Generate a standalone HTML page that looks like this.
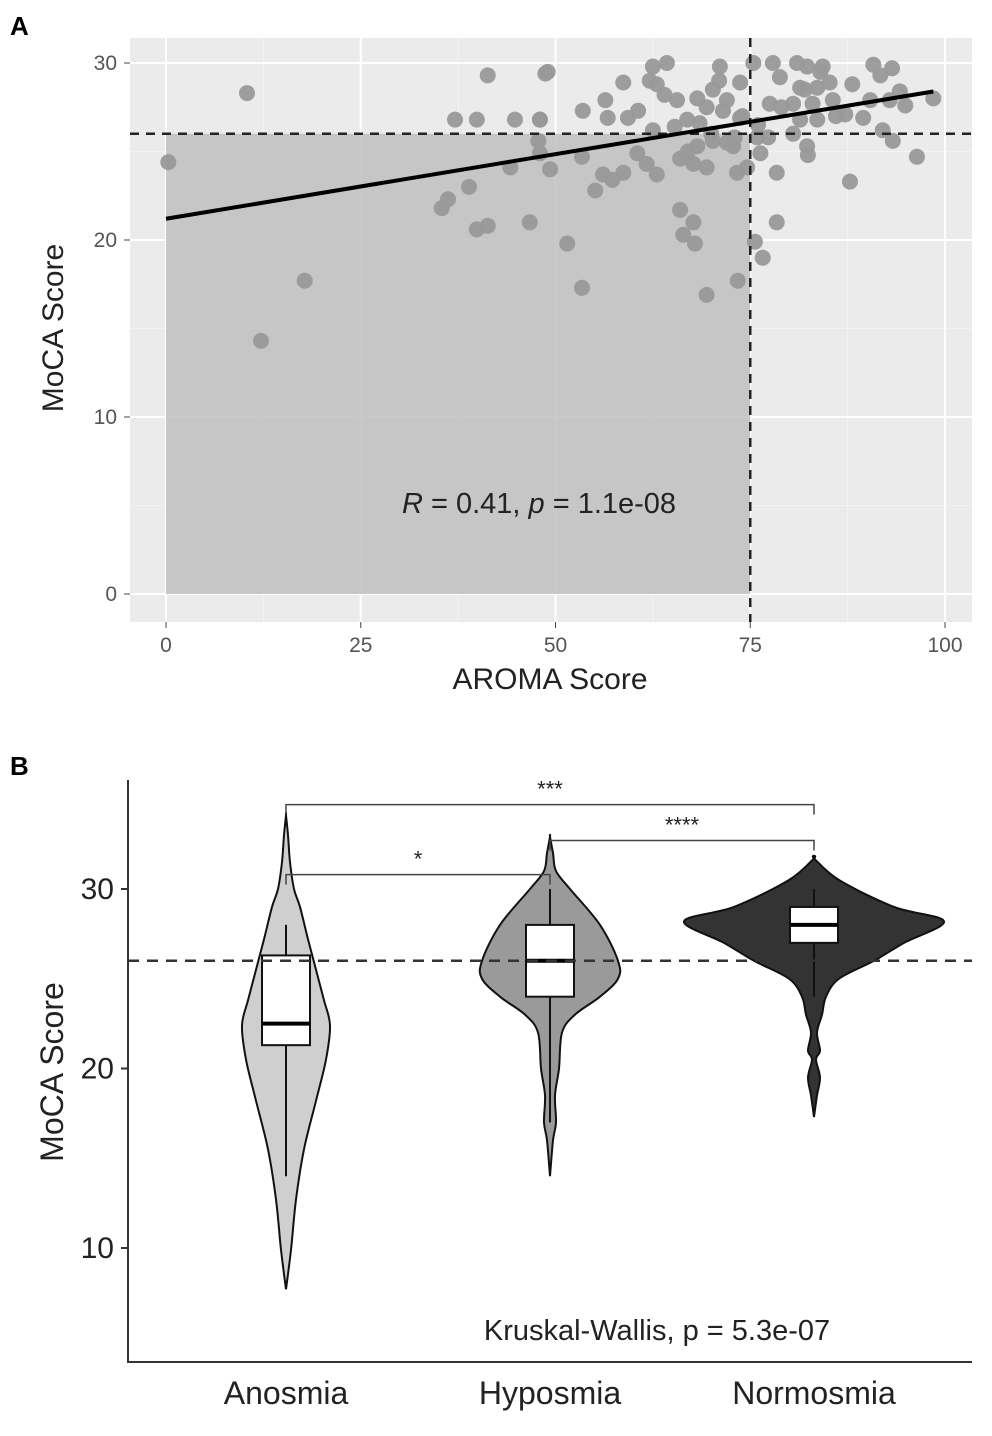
<!DOCTYPE html>
<html><head><meta charset="utf-8"><style>
body{margin:0;background:#fff;width:992px;height:1431px;overflow:hidden;font-family:"Liberation Sans",sans-serif}
</style></head><body>
<svg id="svg" width="992" height="1431" viewBox="0 0 992 1431" xmlns="http://www.w3.org/2000/svg" font-family="Liberation Sans, sans-serif">
<text x="10" y="35" font-size="26" font-weight="bold">A</text>
<text x="10" y="775" font-size="26" font-weight="bold">B</text>
<g id="ga"></g>
<g id="gb"></g>
</svg>
<script>
// Panel A data
const aromaX=[0.3,10.4,12.2,17.8,41.3,37.1,39.9,44.8,48,48.7,47.8,44.2,38.9,36.2,35.4,41.3,39.9,46.7,49,48,53.5,58.7,56.4,56.7,59.3,60.6,62.5,64.3,62.1,63,65.6,71.1,73.7,68.2,70.2,72,69.4,71.5,66.9,68.5,73.7,62.5,65.3,70.2,72.8,68.2,66,67.7,69.4,73.3,74.6,60.5,61.7,63,58.7,56.1,57.3,55.1,53.4,49.3,48,66,67.7,66.4,67.9,51.5,53.4,69.4,73.4,75.6,76.6,78.4,78.4,76.3,75.4,77.9,78.8,77.5,81,82.3,84.3,81.4,83.6,85.2,80.5,83,85.6,81.4,83.6,80.5,82.3,82.4,88.1,87.2,89.5,90.4,90.8,91.7,93.2,92.9,94.2,94.9,92,93.3,96.4,98.5,87.8,75.9,77.3,70,72,74,64,67,79,82,84,86,71,73,76];
const mocaY=[24.4,28.3,14.3,17.7,29.3,26.8,26.8,26.8,26.8,29.4,25.6,24.1,23,22.3,21.8,20.8,20.6,21,29.5,26.8,27.3,28.9,27.9,26.9,26.9,27.3,29.8,30,29,28.8,27.9,29.8,28.9,28,28.5,27.9,27.5,27.3,26.8,26.6,26.9,26.2,26.4,25.6,25.3,25.3,24.6,24.3,24.1,23.8,24.1,24.9,24.3,23.7,23.8,23.7,23.4,22.8,24.7,24,24.9,21.7,21,20.3,19.8,19.8,17.3,16.9,17.7,19.9,19,21,23.8,24.9,30,30,29.2,27.7,30,29.8,29.8,28.6,28.6,28.9,27.7,27.7,27.9,26.8,26.8,26,25.3,24.8,28.8,27.1,26.9,27.9,29.9,29.3,29.7,27.9,28.4,27.6,26.2,25.6,24.7,28,23.3,25.8,25.8,26,25.5,27,28.2,25,27.5,28.5,29.5,27,29,25.8,26.5,28.8];
const xTicksA=[0,25,50,75,100];
const yTicksA=[0,10,20,30];
const fitIntercept=21.2, fitSlope=0.073;
const cutX=75, cutY=26;
// Panel B data
const groups=["Anosmia","Hyposmia","Normosmia"];
const groupFill=["#cfcfcf","#9a9a9a","#333333"];
const violinV=[
 [7.7,9.9,12.7,15.5,18.2,20.5,22.4,23.8,25.5,27.2,29,30,31.5,33,34.1],
 [14,16,17,18.5,20,22,23,24,25,26,28,30,31,32,32.9],
 [17.3,18.5,19.5,20.5,21,22,23,24,25,26,27,28.2,29,30.5,31.7]];
const violinW=[
 [0,5,10,18,30,40,44,38,30,22,14,8,4,2,0],
 [0,3,6,5,9,12,25,50,68,68,50,20,6,3,0],
 [0,3,6,2,6,3,8,12,25,60,90,130,80,25,0]];
const boxQ1=[21.3,24,27], boxMed=[22.5,26,28], boxQ3=[26.3,28,29], whiskLo=[14,17,24], whiskHi=[28,30,30];
const yTicksB=[10,20,30];
const kwText="Kruskal-Wallis, p = 5.3e-07";
const brackets=[{a:0,b:2,y:34.7,lab:"***"},{a:1,b:2,y:32.7,lab:"****"},{a:0,b:1,y:30.8,lab:"*"}];

const NS="http://www.w3.org/2000/svg";
function mk(p,t,at,txt){const e=document.createElementNS(NS,t);for(const k in at)e.setAttribute(k,at[k]);if(txt!==undefined)e.textContent=txt;p.appendChild(e);return e;}
// ---- Panel A
const ga=document.getElementById('ga');
const sx=v=>166+v*7.79, sy=v=>594-v*17.7;
let e=mk(ga,'rect',{x:130,y:38,width:842,height:584,fill:'#ebebeb'});

[12.5,37.5,62.5,87.5].forEach(v=>mk(ga,'line',{x1:sx(v),x2:sx(v),y1:38,y2:622,stroke:'#f3f3f3','stroke-width':1}));
[5,15,25].forEach(v=>mk(ga,'line',{x1:130,x2:972,y1:sy(v),y2:sy(v),stroke:'#f3f3f3','stroke-width':1}));
xTicksA.forEach(v=>{mk(ga,'line',{x1:sx(v),x2:sx(v),y1:38,y2:622,stroke:'#fff','stroke-width':2});
 mk(ga,'line',{x1:sx(v),x2:sx(v),y1:622,y2:628,stroke:'#444'});
 e=mk(ga,'text',{x:sx(v),y:652,'font-size':21,fill:'#555','text-anchor':'middle'},v);
 });
yTicksA.forEach(v=>{mk(ga,'line',{x1:130,x2:972,y1:sy(v),y2:sy(v),stroke:'#fff','stroke-width':2});
 mk(ga,'line',{x1:124,x2:130,y1:sy(v),y2:sy(v),stroke:'#444'});
 e=mk(ga,'text',{x:117,y:sy(v)+7,'font-size':21,fill:'#555','text-anchor':'end'},v);
 });
e=mk(ga,'rect',{x:sx(0),y:sy(cutY),width:sx(cutX)-sx(0),height:sy(0)-sy(cutY),fill:'#bfbfbf','fill-opacity':0.85});

aromaX.forEach((x,i)=>{e=mk(ga,'circle',{cx:sx(x),cy:sy(mocaY[i]),r:8,fill:'#999','fill-opacity':0.95});
 });
e=mk(ga,'line',{x1:130,x2:972,y1:sy(cutY),y2:sy(cutY),stroke:'#222','stroke-width':2.5,'stroke-dasharray':'9 7'});

e=mk(ga,'line',{x1:sx(cutX),x2:sx(cutX),y1:38,y2:622,stroke:'#222','stroke-width':2.5,'stroke-dasharray':'9 7'});

e=mk(ga,'line',{x1:sx(0),x2:sx(98.5),y1:sy(fitIntercept),y2:sy(fitIntercept+fitSlope*98.5),stroke:'#000','stroke-width':4});

e=mk(ga,'text',{x:539,y:513,'font-size':29,fill:'#222','text-anchor':'middle'});
e.innerHTML='<tspan font-style="italic">R</tspan> = 0.41, <tspan font-style="italic">p</tspan> = 1.1e-08';

e=mk(ga,'text',{x:550,y:689,'font-size':30,fill:'#222','text-anchor':'middle'},'AROMA Score');

e=mk(ga,'text',{x:0,y:0,'font-size':30,fill:'#222','text-anchor':'middle',transform:'translate(63,328) rotate(-90)'},'MoCA Score');

// ---- Panel B
const gb=document.getElementById('gb');
const by=v=>1427.5-17.95*v; const bx=i=>286+i*264;
e=mk(gb,'line',{x1:128,x2:128,y1:780,y2:1362,stroke:'#333','stroke-width':2});

e=mk(gb,'line',{x1:127,x2:972,y1:1362,y2:1362,stroke:'#333','stroke-width':2});

yTicksB.forEach(v=>{mk(gb,'line',{x1:121,x2:128,y1:by(v),y2:by(v),stroke:'#333','stroke-width':2});
 e=mk(gb,'text',{x:114,y:by(v)+10,'font-size':30,fill:'#222','text-anchor':'end'},v);
 });
groups.forEach((g,i)=>{
 const c=bx(i),V=violinV[i],W=violinW[i];
 let pts=V.map((v,k)=>[c+W[k],by(v)]); let pts2=V.map((v,k)=>[c-W[k],by(v)]).reverse();
 const all=pts.concat(pts2);
 let d='M'+all[0].join(',');
 for(let k=0;k<all.length-1;k++){const p0=all[Math.max(k-1,0)],p1=all[k],p2=all[k+1],p3=all[Math.min(k+2,all.length-1)];
  d+=` C${p1[0]+(p2[0]-p0[0])/6},${p1[1]+(p2[1]-p0[1])/6} ${p2[0]-(p3[0]-p1[0])/6},${p2[1]-(p3[1]-p1[1])/6} ${p2[0]},${p2[1]}`;}
 e=mk(gb,'path',{d:d+'Z',fill:groupFill[i],stroke:'#111','stroke-width':2});
 
 mk(gb,'line',{x1:c,x2:c,y1:by(whiskLo[i]),y2:by(whiskHi[i]),stroke:'#111','stroke-width':2});
 e=mk(gb,'rect',{x:c-24,y:by(boxQ3[i]),width:48,height:by(boxQ1[i])-by(boxQ3[i]),fill:'#fff',stroke:'#111','stroke-width':2});
 
 mk(gb,'line',{x1:c-24,x2:c+24,y1:by(boxMed[i]),y2:by(boxMed[i]),stroke:'#000','stroke-width':4});
 e=mk(gb,'text',{x:c,y:1404,'font-size':32,fill:'#222','text-anchor':'middle'},g);
 
});
e=mk(gb,'line',{x1:128,x2:972,y1:by(26),y2:by(26),stroke:'#333','stroke-width':2.5,'stroke-dasharray':'11 8'});

brackets.forEach(b=>{const y=by(b.y);
 e=mk(gb,'path',{d:`M${bx(b.a)},${y+10}V${y}H${bx(b.b)}V${y+10}`,fill:'none',stroke:'#444','stroke-width':1.5});
 
 e=mk(gb,'text',{x:(bx(b.a)+bx(b.b))/2,y:y-8,'font-size':22,fill:'#222','text-anchor':'middle'},b.lab);
 });
e=mk(gb,'text',{x:657,y:1340,'font-size':29,fill:'#222','text-anchor':'middle'},kwText);

e=mk(gb,'text',{x:0,y:0,'font-size':32,fill:'#222','text-anchor':'middle',transform:'translate(63,1072) rotate(-90)'},'MoCA Score');

</script>
</body></html>
